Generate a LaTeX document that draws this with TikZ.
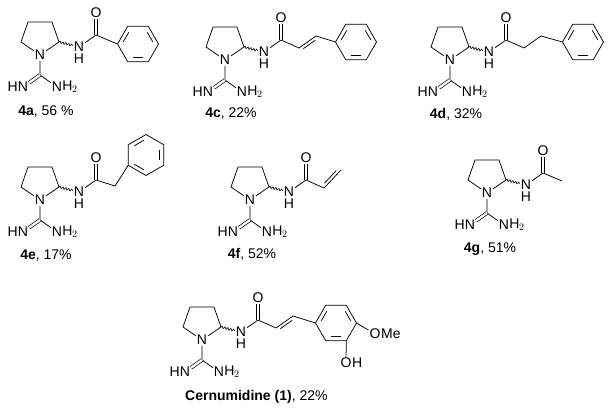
\documentclass[tikz,border=0pt]{standalone}
\usepackage{fontspec}
\setmainfont{Liberation Sans}
\usetikzlibrary{calc,decorations.pathmorphing}
\tikzset{
  atom/.style={inner sep=0.8pt,font=\fontsize{14}{15}\selectfont},
  hatom/.style={inner sep=0pt,font=\fontsize{14}{15}\selectfont},
  captxt/.style={inner sep=0pt,font=\fontsize{14}{15}\selectfont},
  bond/.style={line width=0.75pt},
  dbl/.style={double,double distance=2.3pt,line width=0.7pt},
  wavy/.style={line width=0.6pt,decorate,decoration={snake,amplitude=1.1pt,segment length=3pt}},
  core/.pic={
    \node[atom] (-n) at (0,0) {N};
    \coordinate (-c2) at (19,-13);
    \coordinate (-c3) at (12,-33);
    \coordinate (-c4) at (-12,-33);
    \coordinate (-c5) at (-19,-13);
    \draw[bond] (-n) -- (-c2) -- (-c3) -- (-c4) -- (-c5) -- (-n);
    \coordinate (-cg) at (0,20);
    \node[atom] (-hn) at (-17,32) {N};
    \node[hatom,anchor=east] at ([xshift=0.9pt]-hn.west) {H};
    \node[atom] (-nh2) at (17,32) {N};
    \node[hatom,anchor=west] at ([xshift=-0.8pt]-nh2.east) {H\kern-0.5pt$_2$};
    \draw[bond] (-n) -- (-cg) -- (-nh2);
    \draw[dbl] (-cg) -- (-hn);
    \node[atom] (-nh) at (39,-8) {N};
    \node[hatom,anchor=north] at ([yshift=-0.6pt]-nh.south) {H};
    \draw[wavy] (-c2) -- (-nh);
    \coordinate (-co) at (56,-20);
    \node[atom] (-o) at (56,-42) {O};
    \draw[bond] (-nh) -- (-co);
    \draw[dbl] (-co) -- (-o);
  },
  benz/.pic={
    \foreach \i/\a in {1/0,2/60,3/120,4/180,5/240,6/300}{\coordinate (-v\i) at (\a:20.5);}
    \draw[bond] (-v1) -- (-v2) -- (-v3) -- (-v4) -- (-v5) -- (-v6) -- cycle;
    \foreach \a in {60,180,300}{\draw[bond] ($(\a:16)!0.16!(\a+60:16)$) -- ($(\a:16)!0.84!(\a+60:16)$);}
  }
}
\begin{document}
\begin{tikzpicture}[x=1pt,y=-1pt]
\useasboundingbox (0,0) rectangle (611,412);
% 4a
\begin{scope}[shift={(40,55)}]
  \pic (a) at (0,0) {core};
  \pic (ar) at (98,-11) {benz};
  \draw[bond] (a-co) -- (ar-v4);
  \node[captxt] (la) at (6,57) {\textbf{4a}, 56 \%};
\end{scope}
% 4c
\begin{scope}[shift={(225,60)}]
  \pic (c) at (0,0) {core};
  \coordinate (c1) at (74,-12);
  \coordinate (c2) at (91,-24);
  \pic (cr) at (131,-18) {benz};
  \draw[bond] (c-co) -- (c1) -- (c2) -- (cr-v4);
  \coordinate (c1i) at (78.3,-11.3);
  \coordinate (c2i) at (90.2,-19.7);
  \draw[bond] (c1i) -- (c2i);
  \node[captxt] (lc) at (6,54) {\textbf{4c}, 22\%};
\end{scope}
% 4d
\begin{scope}[shift={(450,60)}]
  \pic (d) at (0,0) {core};
  \coordinate (d1) at (74,-12);
  \coordinate (d2) at (91,-24);
  \pic (dr) at (133,-18) {benz};
  \draw[bond] (d-co) -- (d1) -- (d2) -- (dr-v4);
  \node[captxt] (ld) at (6,54) {\textbf{4d}, 32\%};
\end{scope}
% 4e
\begin{scope}[shift={(40,200)}]
  \pic (e) at (0,0) {core};
  \coordinate (e1) at (75,-14);
  \pic[rotate=-30] (er) at (106,-45) {benz};
  \draw[bond] (e-co) -- (e1) -- (er-v3);
  \node[captxt] (le) at (6,56) {\textbf{4e}, 17\%};
\end{scope}
% 4f
\begin{scope}[shift={(250,200)}]
  \pic (f) at (0,0) {core};
  \coordinate (f1) at (74,-12);
  \coordinate (f2) at (91,-30);
  \draw[bond] (f-co) -- (f1) -- (f2);
  \coordinate (f1i) at (74.4,-16.8);
  \coordinate (f2i) at (86.3,-29.4);
  \draw[bond] (f1i) -- (f2i);
  \node[captxt] (lf) at (2,54) {\textbf{4f}, 52\%};
\end{scope}
% 4g
\begin{scope}[shift={(487,193)}]
  \pic (g) at (0,0) {core};
  \coordinate (g1) at (75,-12);
  \draw[bond] (g-co) -- (g1);
  \node[captxt] (lg) at (3,56) {\textbf{4g}, 51\%};
\end{scope}
% Cernumidine
\begin{scope}[shift={(202,340)}]
  \pic (m) at (0,0) {core};
  \coordinate (m1) at (74,-12);
  \coordinate (m2) at (91,-24);
  \pic (mr) at (134,-17) {benz};
  \draw[bond] (m-co) -- (m1) -- (m2) -- (mr-v4);
  \coordinate (m1i) at (78.3,-11.3);
  \coordinate (m2i) at (90.2,-19.7);
  \draw[bond] (m1i) -- (m2i);
  \node[atom] (mo) at (173,-6) {O};
  \node[hatom,anchor=west] at ([xshift=-0.5pt]mo.east) {Me};
  \draw[bond] (mr-v1) -- (mo);
  \node[atom] (moh) at (144,23) {O};
  \node[hatom,anchor=west] at ([xshift=-0.5pt]moh.east) {H};
  \draw[bond] (mr-v2) -- (moh);
  \node[captxt,anchor=west] (lm) at (-17,57) {\textbf{Cernumidine (1)}, 22\%};
\end{scope}
\end{tikzpicture}
\end{document}
